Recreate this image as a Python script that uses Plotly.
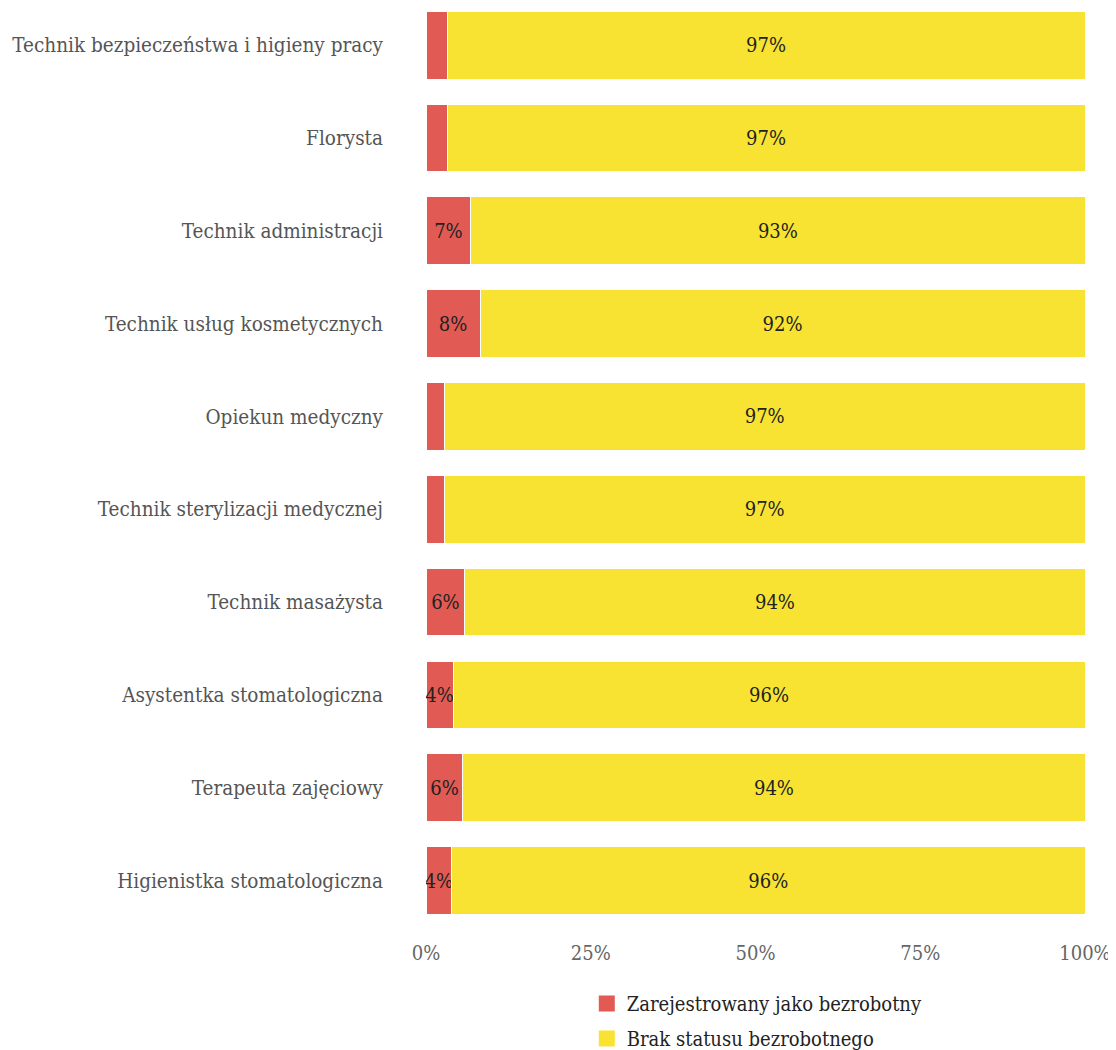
import plotly.graph_objects as go

categories = [
    "Technik bezpieczeństwa i higieny pracy",
    "Florysta",
    "Technik administracji",
    "Technik usług kosmetycznych",
    "Opiekun medyczny",
    "Technik sterylizacji medycznej",
    "Technik masażysta",
    "Asystentka stomatologiczna",
    "Terapeuta zajęciowy",
    "Higienistka stomatologiczna",
]
unemployed = [3.2, 3.2, 6.8, 8.2, 2.8, 2.8, 5.9, 4.1, 5.6, 3.9]
not_unemployed = [100 - v for v in unemployed]
series_names = ["Zarejestrowany jako bezrobotny", "Brak statusu bezrobotnego"]
tick_vals = [0, 25, 50, 75, 100]
tick_text = ["0%", "25%", "50%", "75%", "100%"]

RED = "#E15A53"
YELLOW = "#F8E332"
FONT = "DejaVu Serif Condensed, DejaVu Serif"

def labels(vals, minimum=3.5):
    return [f"{round(v)}%" if v >= minimum else "" for v in vals]

fig = go.Figure()
for vals, name, color in [(unemployed, series_names[0], RED),
                          (not_unemployed, series_names[1], YELLOW)]:
    fig.add_trace(go.Bar(
        y=categories, x=vals, orientation="h", name=name, showlegend=False,
        legendgroup=name,
        marker=dict(color=color, line=dict(color="white", width=1)),
        text=labels(vals), textposition="inside", insidetextanchor="middle",
        constraintext="none", textangle=0,
        textfont=dict(color="#222222", size=20, family=FONT),
    ))
    # legend entry with a larger square swatch
    fig.add_trace(go.Scatter(
        x=[None], y=[None], mode="markers", name=name, legendgroup=name,
        marker=dict(symbol="square", size=22, color=color),
    ))

fig.update_layout(
    barmode="stack",
    bargap=0.27,
    width=1116, height=1050,
    margin=dict(l=418, r=39, t=0, b=131),
    plot_bgcolor="white", paper_bgcolor="white",
    font=dict(family=FONT, size=20, color="#555555"),
    xaxis=dict(range=[0, 100], tickvals=tick_vals, ticktext=tick_text,
               showgrid=False, zeroline=False, showline=False,
               ticklabelstandoff=12,
               tickfont=dict(size=20, color="#666666", family=FONT)),
    yaxis=dict(autorange=False, range=[9.5, -0.4], showgrid=False, showline=False,
               ticklabelstandoff=42,
               tickfont=dict(size=20.5, color="#555555", family=FONT)),
    legend=dict(orientation="v", x=0.244, xanchor="left", y=-0.062, yanchor="top",
                traceorder="grouped", tracegroupgap=6, itemsizing="trace",
                font=dict(size=20, color="#222222", family=FONT)),
    showlegend=True,
)

fig.write_html("out.html")
